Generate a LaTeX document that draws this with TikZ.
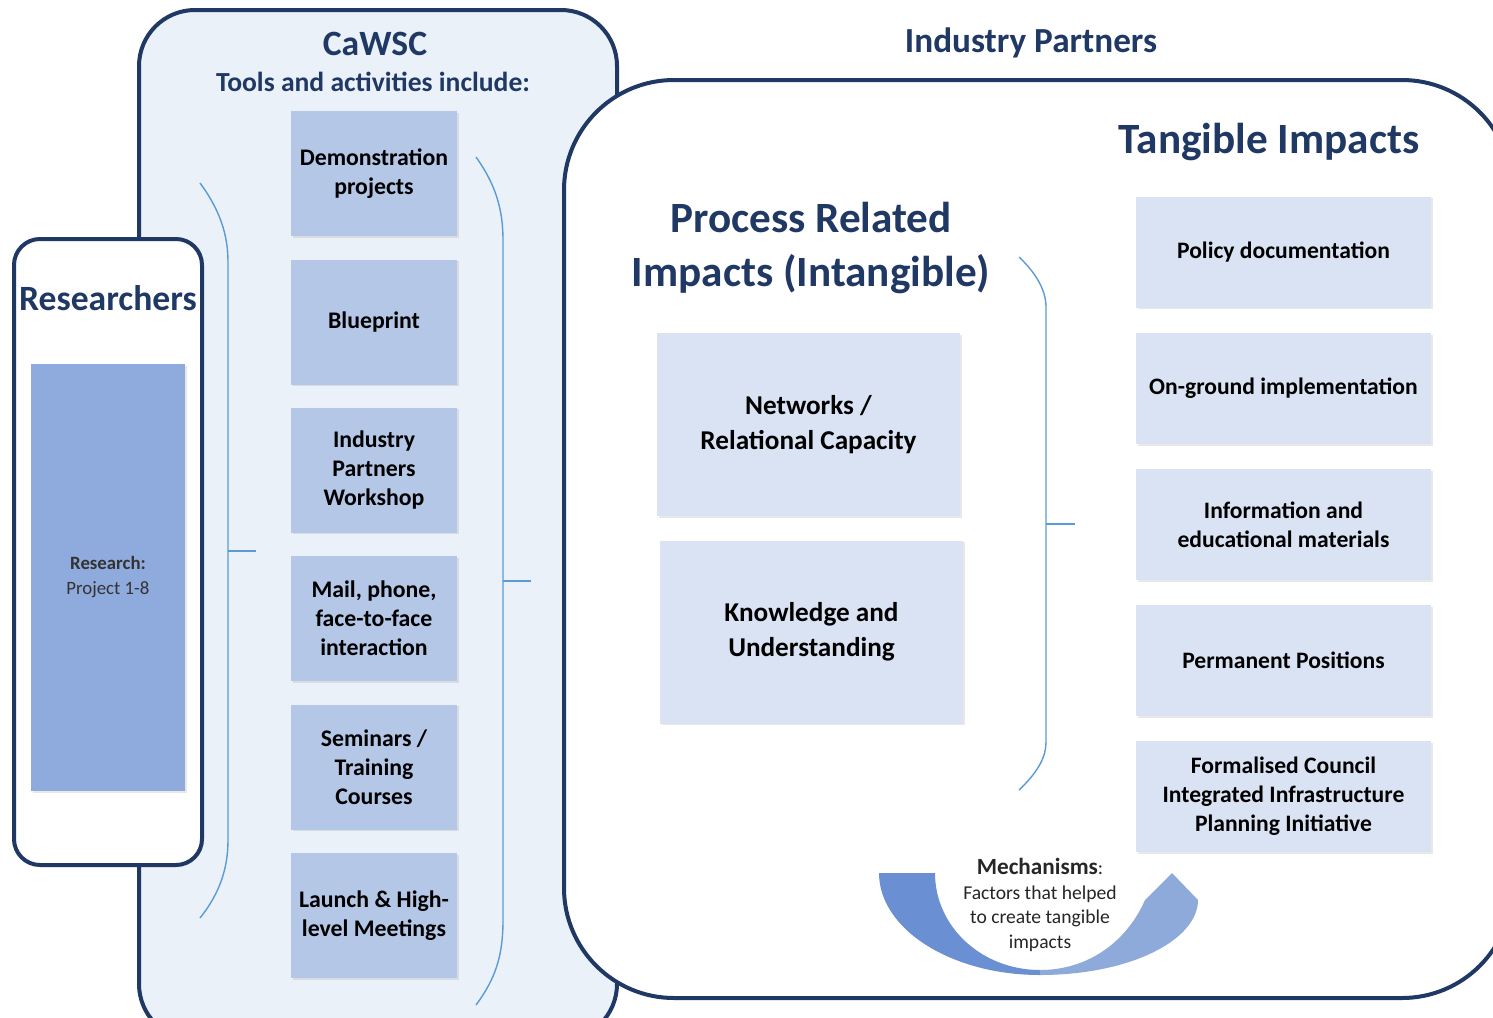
\documentclass[tikz,border=0pt]{standalone}
\usepackage{fontspec}
\setmainfont{Carlito}
\usetikzlibrary{shadows}
\definecolor{navy}{HTML}{1F3864}
\definecolor{cawfill}{HTML}{EBF1F9}
\definecolor{toolfill}{HTML}{B4C7E7}
\definecolor{resfill}{HTML}{8FAADC}
\definecolor{lightbox}{HTML}{DAE3F3}
\definecolor{brk}{HTML}{5B9BD5}
\definecolor{mechL}{HTML}{6A8FD2}
\definecolor{mechR}{HTML}{8EAADB}
\tikzset{
  frame/.style={draw=navy, line width=2pt},
  shad/.style={drop shadow={opacity=0.18, shadow xshift=0.8pt, shadow yshift=-0.8pt}},
  toolbox/.style={shad, fill=toolfill, minimum width=83pt, minimum height=62.5pt, align=center,
    font=\fontsize{11.9}{14.6}\selectfont\bfseries, text=black, inner sep=0pt},
  impbox/.style={shad, fill=lightbox, minimum width=147.5pt, minimum height=55.5pt, align=center,
    font=\fontsize{11.8}{14.5}\selectfont\bfseries, text=black, inner sep=0pt},
  procbox/.style={shad, fill=lightbox, minimum width=151.5pt, minimum height=91.5pt, align=center,
    font=\fontsize{13.6}{17.3}\selectfont\bfseries, text=black, inner sep=0pt},
  bracket/.style={draw=brk, line width=0.7pt},
  title/.style={text=navy, font=\bfseries, align=center, inner sep=0pt},
}
\begin{document}
\begin{tikzpicture}[x=0.5pt, y=-0.5pt]
\useasboundingbox (0,0) rectangle (1493,1017);
\clip (0,0) rectangle (1493,1017);
\fill[white] (0,0) rectangle (1493,1017);

% CaWSC frame
\draw[frame, fill=cawfill, rounded corners=28pt] (139,10) rectangle (617,1040);
% Researchers frame
\draw[frame, fill=white, rounded corners=13pt, shad] (14,239) rectangle (202,865);
% Industry Partners frame
\draw[frame, fill=white, rounded corners=55pt] (564,80) rectangle (1512,998);

% titles
\node[title, font=\fontsize{17.8}{17.8}\selectfont\bfseries] (cawsc) at (375,44) {CaWSC};
\node[title, font=\fontsize{13.8}{13.8}\selectfont\bfseries] (tools) at (373,82) {Tools and activities include:};
\node[title, font=\fontsize{17.6}{17.6}\selectfont\bfseries] (indp) at (1031,43) {Industry Partners};
\node[title, font=\fontsize{17.8}{17.8}\selectfont\bfseries] (resh) at (108,298) {Researchers};
\node[title, font=\fontsize{21.6}{27}\selectfont\bfseries] (proc) at (811,248) {Process Related\\Impacts (Intangible)};
\node[title, font=\fontsize{21.6}{21.6}\selectfont\bfseries] (tang) at (1269,142) {Tangible Impacts};

% research box
\node[shad, fill=resfill, minimum width=77pt, minimum height=213.5pt, align=center, inner sep=0pt,
  font=\fontsize{9.4}{12.5}\selectfont, text=black!80] (research) at (108,577.5)
  {\textbf{Research:}\\Project 1-8};

% tool boxes
\node[toolbox] (t1) at (374,173.5) {Demonstration\\projects};
\node[toolbox] (t2) at (374,322) {Blueprint};
\node[toolbox] (t3) at (374,470) {Industry\\Partners\\Workshop};
\node[toolbox] (t4) at (374,618.5) {Mail, phone,\\face-to-face\\interaction};
\node[toolbox] (t5) at (374,767) {Seminars /\\Training\\Courses};
\node[toolbox] (t6) at (374,915.5) {Launch \& High-\\level Meetings};

% process boxes
\node[procbox] (net) at (808.5,424.5) {Networks /\\Relational Capacity};
\node[procbox] (know) at (811.5,632) {Knowledge and\\Understanding};

% tangible boxes
\node[impbox] (i1) at (1283.5,252) {Policy documentation};
\node[impbox] (i2) at (1283.5,388.5) {On-ground implementation};
\node[impbox] (i3) at (1283.5,524.5) {Information and\\educational materials};
\node[impbox] (i4) at (1283.5,660.5) {Permanent Positions};
\node[impbox] (i5) at (1283.5,796.5) {Formalised Council\\Integrated Infrastructure\\Planning Initiative};

% brackets
\draw[bracket] (200,183) .. controls (220,210) and (228,235) .. (228,262) -- (228,840)
  .. controls (228,868) and (220,893) .. (200,918);
\draw[bracket] (228,551) -- (256,551);
\draw[bracket] (476,157) .. controls (496,185) and (503,210) .. (503,240) -- (503,920)
  .. controls (503,955) and (496,978) .. (476,1005);
\draw[bracket] (503,581) -- (531,581);
\draw[bracket] (1019,257) .. controls (1038,275) and (1046,292) .. (1046,307) -- (1046,742)
  .. controls (1046,757) and (1038,772) .. (1019,790);
\draw[bracket] (1046,524) -- (1075,524);

% mechanisms crescent
\fill[mechL] (879,873) .. controls (879,929) and (951,975) .. (1040,975)
  -- (1040,970) .. controls (982,970) and (935,927) .. (935,873) -- cycle;
\fill[mechR] (1040,975) .. controls (1130,975) and (1198,940) .. (1198,900)
  -- (1172,873) -- (1145,900) .. controls (1125,945) and (1085,970) .. (1040,970) -- cycle;
\node[align=center, inner sep=0pt, font=\fontsize{9.8}{12.25}\selectfont, text=black!85] (mech) at (1040,905)
  {{\fontsize{11.6}{12}\selectfont\textbf{Mechanisms}}:\\Factors that helped\\to create tangible\\impacts};
\end{tikzpicture}
\end{document}
